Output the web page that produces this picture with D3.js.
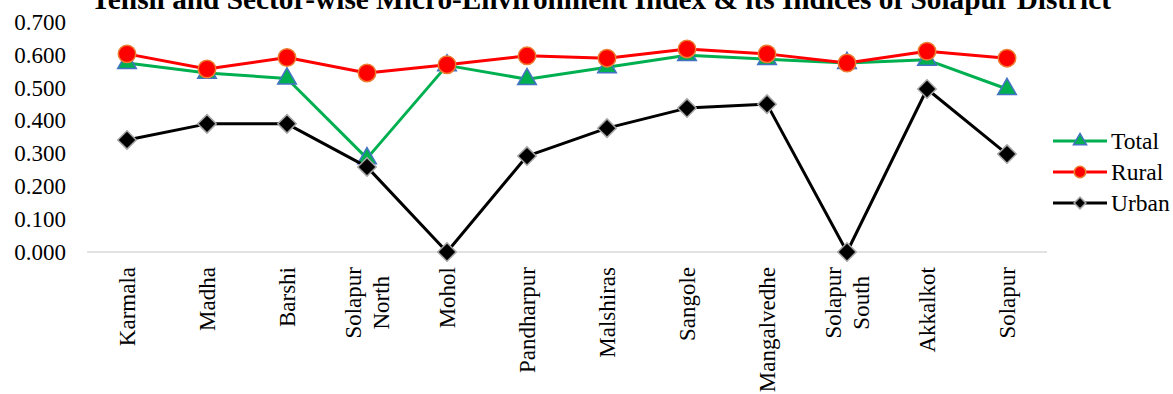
<!DOCTYPE html>
<html><head><meta charset="utf-8">
<script src="https://cdn.jsdelivr.net/npm/d3@7"></script>
<style>
body{margin:0;background:#fff}
svg{display:block}
text{font-family:"Liberation Serif","Times New Roman",serif;fill:#000}
</style>
</head><body>
<svg id="c" width="1173" height="394"></svg>
<script>
const title = "Tehsil and Sector-wise Micro-Environment Index & its Indices of Solapur District";
const categories = ["Karmala","Madha","Barshi","Solapur North","Mohol","Pandharpur","Malshiras","Sangole","Mangalvedhe","Solapur South","Akkalkot","Solapur"];
const total = [0.575,0.545,0.528,0.285,0.568,0.526,0.562,0.599,0.587,0.575,0.585,0.496];
const rural = [0.603,0.557,0.592,0.545,0.570,0.597,0.590,0.618,0.603,0.575,0.611,0.590];
const urban = [0.341,0.390,0.390,0.259,0.000,0.292,0.377,0.438,0.450,0.000,0.496,0.298];
const yTicks = [0,0.1,0.2,0.3,0.4,0.5,0.6,0.7];
const seriesNames = ["Total","Rural","Urban"];

const FONT = "'Liberation Serif','Times New Roman',serif";
const svg = d3.select("#c");
const L = 87, R = 1047, T = 22, B = 252;
const x = d3.scaleBand().domain(categories).range([L, R]);
const y = d3.scaleLinear().domain([0, 0.7]).range([B, T]);
const cx = c => x(c) + x.bandwidth() / 2;

// title (clipped at the top, as in the reference)
svg.append("text").attr("x", 601).attr("y", 9).attr("text-anchor", "middle")
  .style("font-family", FONT).style("font-weight", "bold").style("font-size", "29.3px").text(title);

// y axis labels
const ya = svg.append("g").attr("transform", `translate(${L},0)`)
  .call(d3.axisLeft(y).tickValues(yTicks).tickFormat(d3.format(".3f")).tickSize(0).tickPadding(21));
ya.select(".domain").remove();
ya.selectAll("text").style("font-size", "23px").style("font-family", FONT).attr("fill", "#000");

// baseline
svg.append("line").attr("x1", L).attr("x2", R).attr("y1", y(0)).attr("y2", y(0))
  .attr("stroke", "#D9D9D9").attr("stroke-width", 1.5);

// category labels
const labTop = 267;
categories.forEach(c => {
  const words = c.split(" ");
  const g = svg.append("g");
  if (words.length === 1) {
    g.append("text").attr("transform", `translate(${cx(c)},${labTop}) rotate(-90)`)
      .attr("text-anchor", "end").attr("dy", "0.33em")
      .style("font-family", FONT).style("font-size", "23px").text(c);
  } else {
    const ts = words.map((w, i) => g.append("text").attr("text-anchor", "middle")
      .style("font-family", FONT).style("font-size", "23px").text(w));
    const maxLen = d3.max(ts, t => t.node().getComputedTextLength());
    const lh = 28;
    ts.forEach((t, i) => {
      const off = (i - (words.length - 1) / 2) * lh;
      t.attr("transform", `translate(${cx(c) + off},${labTop + maxLen / 2}) rotate(-90)`).attr("dy", "0.33em");
    });
  }
});

const line = d3.line().x((d, i) => cx(categories[i])).y(d => y(d));
const specs = [
  {name: "Total", data: total, color: "#00B050", sym: d3.symbolTriangle, size: 150, lsize: 75, fill: "#00B050", stroke: "#4472C4", rot: 0},
  {name: "Rural", data: rural, color: "#FF0000", sym: d3.symbolCircle, size: 240, lsize: 105, fill: "#FF0000", stroke: "#ED7D31", rot: 0},
  {name: "Urban", data: urban, color: "#000000", sym: d3.symbolSquare, size: 170, lsize: 70, fill: "#000000", stroke: "#A5A5A5", rot: 45}
];

specs.forEach(s => {
  svg.append("path").datum(s.data).attr("d", line).attr("fill", "none")
    .attr("stroke", s.color).attr("stroke-width", 3).attr("stroke-linejoin", "round");
  svg.selectAll(null).data(s.data).enter().append("path")
    .attr("d", d3.symbol(s.sym, s.size))
    .attr("transform", (d, i) => `translate(${cx(categories[i])},${y(d)}) rotate(${s.rot})`)
    .attr("fill", s.fill).attr("stroke", s.stroke).attr("stroke-width", 1.5);
});

// legend
const lx1 = 1053, lx2 = 1107, ly = [141, 172, 203];
specs.forEach((s, i) => {
  const g = svg.append("g");
  g.append("line").attr("x1", lx1).attr("x2", lx2).attr("y1", ly[i]).attr("y2", ly[i])
    .attr("stroke", s.color).attr("stroke-width", 3);
  g.append("path").attr("d", d3.symbol(s.sym, s.lsize))
    .attr("transform", `translate(${(lx1 + lx2) / 2},${ly[i]}) rotate(${s.rot})`)
    .attr("fill", s.fill).attr("stroke", s.stroke).attr("stroke-width", 1.5);
  g.append("text").attr("x", 1111).attr("y", ly[i]).attr("dy", "0.33em")
    .style("font-family", FONT).style("font-size", "23.5px").text(seriesNames[i]);
});
</script>
</body></html>
